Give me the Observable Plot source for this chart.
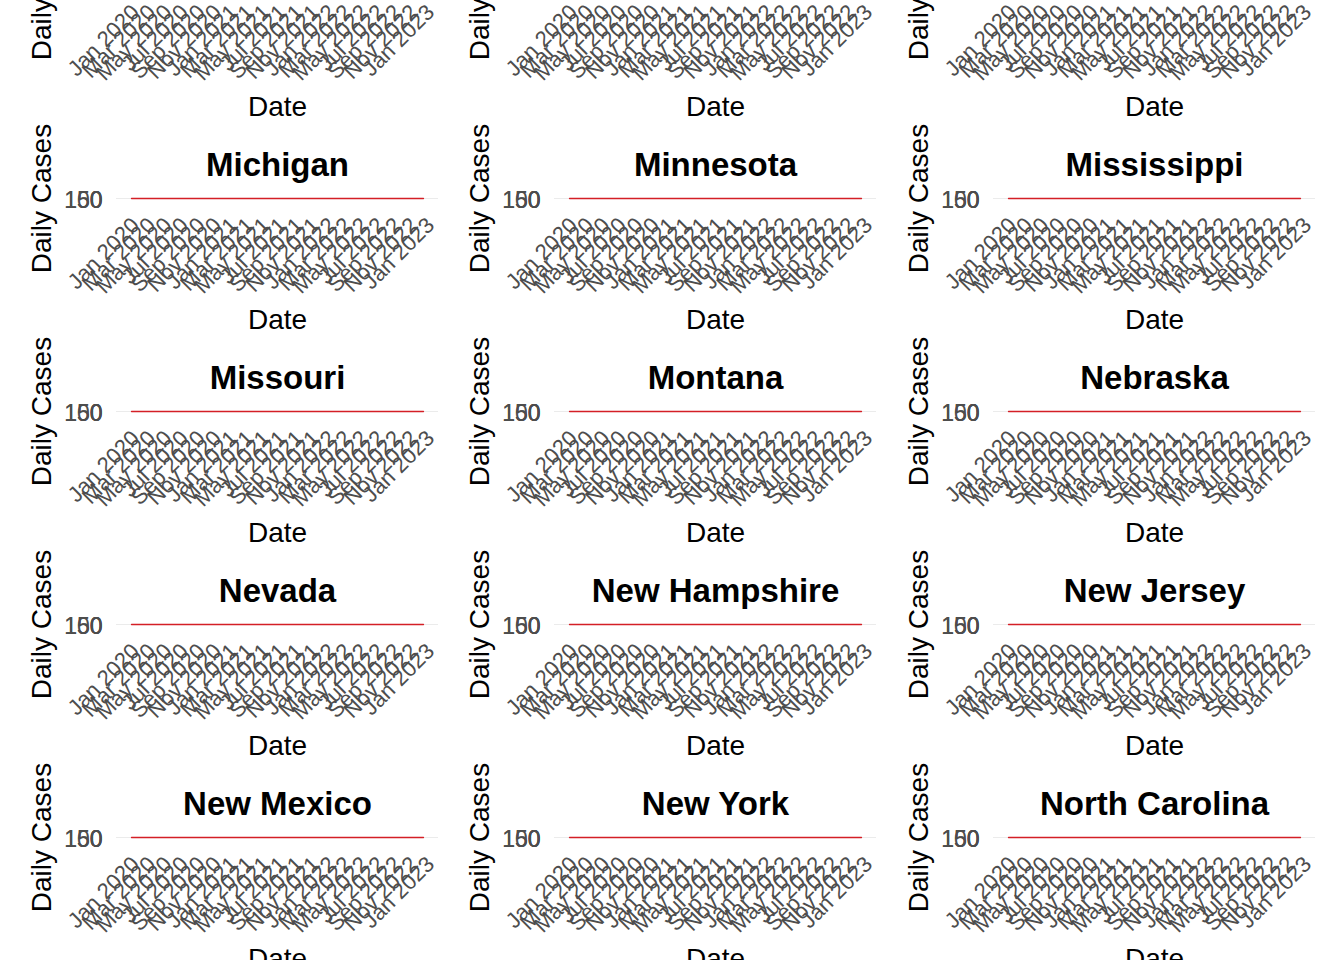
<!DOCTYPE html>
<html><head><meta charset="utf-8">
<script src="https://cdn.jsdelivr.net/npm/d3@7"></script>
<script src="https://cdn.jsdelivr.net/npm/@observablehq/plot@0.6"></script>
<style>
html,body{margin:0;padding:0;background:#fff;}
#wrap{position:relative;width:1344px;height:960px;overflow:hidden;background:#fff;}
.panel{position:absolute;}
.panel svg{display:block;overflow:visible;}
</style></head><body><div id="wrap"></div>
<script>
// ---- data ----
const states = ["Maine","Maryland","Massachusetts","Michigan","Minnesota","Mississippi","Missouri","Montana","Nebraska","Nevada","New Hampshire","New Jersey","New Mexico","New York","North Carolina"];
const dates = ["2020-01-08","2020-04-10","2020-07-20","2020-11-20","2021-01-10","2021-04-15","2021-09-05","2021-12-01","2022-01-15","2022-05-15","2022-08-01","2022-12-28"];
const casesMaine         = [0, 2, 2, 14, 38, 30, 28, 68, 118, 26, 18, 20];
const casesMaryland      = [0, 12, 15, 35, 45, 20, 18, 40, 150, 15, 18, 12];
const casesMassachusetts = [0, 30, 5, 40, 80, 25, 22, 75, 160, 30, 16, 14];
const casesMichigan      = [0, 15, 8, 78, 30, 72, 30, 95, 130, 25, 22, 14];
const casesMinnesota     = [0, 5, 12, 120, 28, 30, 30, 80, 145, 20, 20, 10];
const casesMississippi   = [0, 8, 40, 35, 65, 10, 110, 12, 155, 8, 30, 12];
const casesMissouri      = [0, 6, 18, 70, 42, 12, 32, 35, 140, 10, 22, 8];
const casesMontana       = [0, 2, 10, 100, 40, 18, 48, 28, 125, 12, 20, 6];
const casesNebraska      = [0, 8, 12, 112, 35, 12, 30, 45, 120, 10, 18, 6];
const casesNevada        = [0, 10, 35, 60, 75, 14, 38, 30, 150, 15, 22, 7];
const casesNewHampshire  = [0, 4, 3, 45, 60, 28, 32, 92, 145, 25, 18, 10];
const casesNewJersey     = [0, 40, 4, 45, 70, 50, 20, 60, 160, 30, 18, 12];
const casesNewMexico     = [0, 5, 12, 95, 40, 12, 35, 70, 135, 12, 20, 8];
const casesNewYork       = [0, 50, 4, 25, 75, 42, 25, 80, 160, 40, 25, 15];
const casesNorthCarolina = [0, 4, 18, 30, 85, 18, 60, 25, 150, 15, 30, 12];
const caseSeries = [casesMaine, casesMaryland, casesMassachusetts, casesMichigan, casesMinnesota, casesMississippi, casesMissouri, casesMontana, casesNebraska, casesNevada, casesNewHampshire, casesNewJersey, casesNewMexico, casesNewYork, casesNorthCarolina];
const xTickLabels = ["Jan 2020","Mar 2020","May 2020","Jul 2020","Sep 2020","Nov 2020","Jan 2021","Mar 2021","May 2021","Jul 2021","Sep 2021","Nov 2021","Jan 2022","Mar 2022","May 2022","Jul 2022","Sep 2022","Nov 2022","Jan 2023"];
const yTicks = [0, 50, 100, 150];

// ---- drawing ----
const parseDate = d3.utcParse("%Y-%m-%d");
const parseTick = d3.utcParse("%b %Y");
const xTicks = xTickLabels.map(parseTick);
const dateValues = dates.map(parseDate);
const font = "'Liberation Sans', Arial, sans-serif";
const wrap = document.getElementById("wrap");

const W = 438, H = 213, colStep = 438.5, rowStep = 213, firstTop = -93;

states.forEach((state, i) => {
  const data = dateValues.map((d, k) => ({date: d, cases: caseSeries[i][k]}));
  const chart = Plot.plot({
    width: W,
    height: H,
    marginTop: 78,
    marginBottom: 135,
    marginLeft: 116,
    marginRight: 0,
    style: {background: "transparent", overflow: "visible", fontFamily: font},
    x: {type: "utc", domain: d3.extent(dateValues), inset: 15, axis: null},
    y: {domain: [0, 150], axis: null},
    marks: [
      Plot.gridY(yTicks, {stroke: "#ebebeb", strokeOpacity: 1, strokeWidth: 1}),
      Plot.lineY(data, {x: "date", y: "cases", stroke: "#d41f26", strokeWidth: 1.3}),
      Plot.text(yTicks, {y: d => d, text: d => String(d), frameAnchor: "left", textAnchor: "end", lineAnchor: "middle", dx: -14, dy: 2, fontSize: 23, fill: "#4d4d4d"}),
      Plot.text(xTicks, {x: d => d, text: (d, k) => xTickLabels[k], frameAnchor: "bottom", rotate: -45, textAnchor: "end", lineAnchor: "top", dy: 17, fontSize: 22, fill: "#4d4d4d"}),
      Plot.text([state], {frameAnchor: "top", text: d => d, lineAnchor: "bottom", dy: -23, fontSize: 33, fontWeight: "bold", fill: "#000"}),
      Plot.text(["Date"], {frameAnchor: "bottom", text: d => d, lineAnchor: "bottom", dy: 130, fontSize: 28, fill: "#000"}),
      Plot.text(["Daily Cases"], {frameAnchor: "left", text: d => d, rotate: -90, lineAnchor: "middle", textAnchor: "middle", dx: -74, fontSize: 28, fill: "#000"})
    ]
  });
  const div = document.createElement("div");
  div.className = "panel";
  div.style.left = (Math.floor(i % 3 * colStep)) + "px";
  div.style.top = (firstTop + Math.floor(i / 3) * rowStep) + "px";
  div.appendChild(chart);
  wrap.appendChild(div);
});
</script></body></html>
